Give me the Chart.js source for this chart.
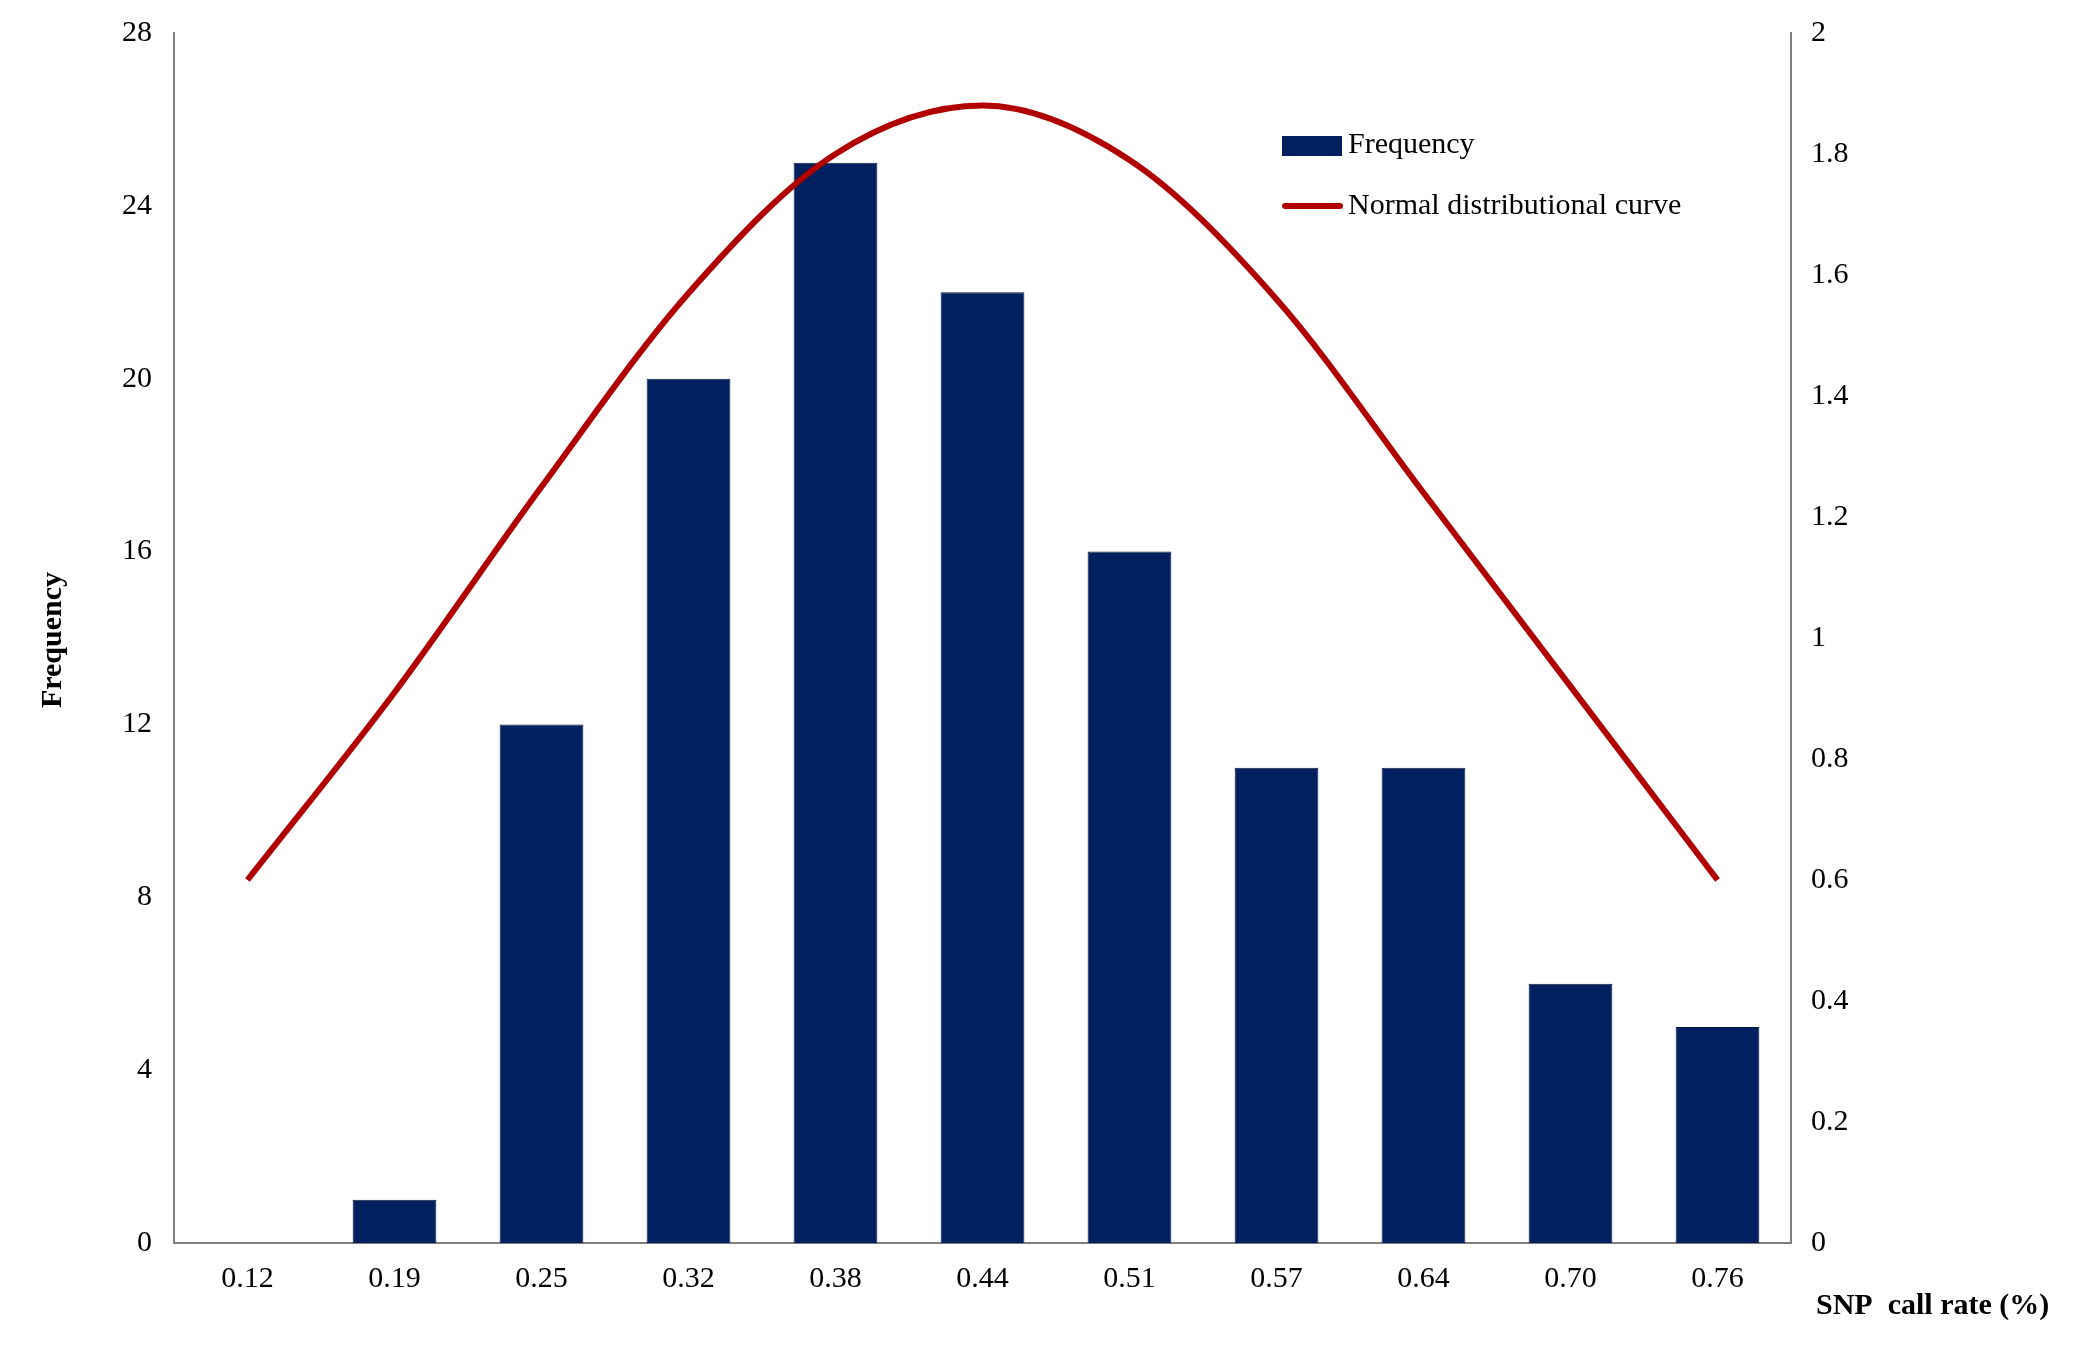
<!DOCTYPE html>
<html>
<head>
<meta charset="utf-8">
<script src="https://cdn.jsdelivr.net/npm/chart.js@4.4.1/dist/chart.umd.min.js"></script>
<style>
  html, body { margin: 0; padding: 0; background: #fff; }
  #wrap { width: 2087px; height: 1349px; position: relative; }
</style>
</head>
<body>
<div id="wrap"><canvas id="c"></canvas></div>
<script>
const callRates = ["0.12", "0.19", "0.25", "0.32", "0.38", "0.44", "0.51", "0.57", "0.64", "0.70", "0.76"];
const frequency = [0, 1, 12, 20, 25, 22, 16, 11, 11, 6, 5];
const normalCurve = [0.6, 0.91, 1.25, 1.57, 1.8, 1.88, 1.79, 1.56, 1.24, 0.92, 0.6];

const FONT = "'Liberation Serif', 'DejaVu Serif', serif";
const BAR = "#002060";
const LINE = "#B00000";
const AXIS = "#7f7f7f";

// legend and axis titles drawn by hand, placed like the original
const extras = {
  id: "extras",
  afterDraw(chart) {
    const { ctx } = chart;
    const bars = chart.data.datasets.find((d) => d.type === "bar");
    const curve = chart.data.datasets.find((d) => d.type === "line");
    ctx.save();
    ctx.textBaseline = "middle";

    // legend
    ctx.font = `30px ${FONT}`;
    ctx.fillStyle = bars.backgroundColor;
    ctx.fillRect(1282, 136, 60, 20);
    ctx.fillStyle = "#000";
    ctx.fillText(bars.label, 1348, 145);
    ctx.strokeStyle = curve.borderColor;
    ctx.lineWidth = 6;
    ctx.lineCap = "round";
    ctx.beginPath();
    ctx.moveTo(1285, 206);
    ctx.lineTo(1340, 206);
    ctx.stroke();
    ctx.fillText(curve.label, 1348, 206);

    // axis titles
    ctx.font = `bold 30px ${FONT}`;
    ctx.textAlign = "left";
    ctx.fillText("SNP  call rate (%)", 1816, 1306);
    ctx.translate(53, 640);
    ctx.rotate(-Math.PI / 2);
    ctx.textAlign = "center";
    ctx.fillText("Frequency", 0, 0);
    ctx.restore();
  },
};

new Chart(document.getElementById("c"), {
  plugins: [extras],
  data: {
    labels: callRates,
    datasets: [
      {
        type: "line",
        label: "Normal distributional curve",
        data: normalCurve,
        yAxisID: "y1",
        borderColor: LINE,
        borderWidth: 6,
        pointRadius: 0,
        cubicInterpolationMode: "monotone",
        order: 0,
      },
      {
        type: "bar",
        label: "Frequency",
        data: frequency,
        yAxisID: "y",
        backgroundColor: BAR,
        borderColor: "#0b1a40",
        borderWidth: 1,
        categoryPercentage: 1,
        barPercentage: 0.57,
        order: 1,
      },
    ],
  },
  options: {
    responsive: true,
    maintainAspectRatio: false,
    animation: false,
    layout: { padding: { top: 33, left: 0, right: 0, bottom: 0 } },
    plugins: {
      legend: { display: false },
      tooltip: { enabled: false },
    },
    scales: {
      x: {
        grid: { display: false, drawTicks: false },
        border: { color: AXIS, width: 2 },
        ticks: { color: "#000", font: { family: FONT, size: 30 }, padding: 18 },
        afterFit(s) { s.height = 106; },
      },
      y: {
        position: "left",
        min: 0,
        max: 28,
        grid: { display: false, drawTicks: true, tickLength: 8, tickColor: AXIS },
        border: { color: AXIS, width: 2 },
        ticks: { stepSize: 4, color: "#000", font: { family: FONT, size: 30 }, padding: 14 },
        afterFit(s) { s.width = 174; },
      },
      y1: {
        position: "right",
        min: 0,
        max: 2,
        grid: { display: false, drawOnChartArea: false, tickLength: 8, tickColor: AXIS },
        border: { color: AXIS, width: 2 },
        ticks: {
          stepSize: 0.2,
          color: "#000",
          font: { family: FONT, size: 30 },
          padding: 12,
          callback: (v) => String(Number(v.toFixed(1))),
        },
        afterFit(s) { s.width = 296; },
      },
    },
  },
});
</script>
</body>
</html>
